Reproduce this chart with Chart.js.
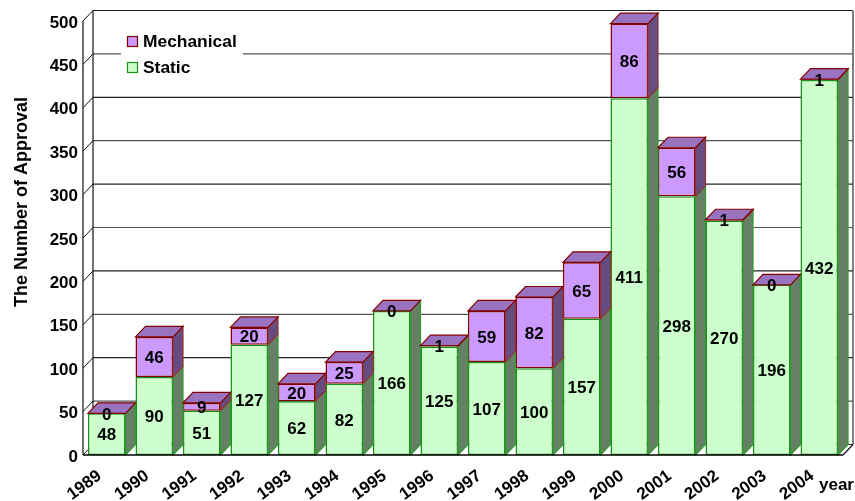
<!DOCTYPE html>
<html>
<head>
<meta charset="utf-8">
<title>The Number of Approval</title>
<style>
    html, body { margin: 0; padding: 0; background: #fff; }
    canvas { display: block; }
</style>
<script src="https://cdn.jsdelivr.net/npm/chart.js@4"></script>
</head>
<body>
<canvas id="myChart" width="855" height="501"></canvas>
<script>
const years = ["1989", "1990", "1991", "1992", "1993", "1994", "1995", "1996",
    "1997", "1998", "1999", "2000", "2001", "2002", "2003", "2004"];
const staticValues = [48, 90, 51, 127, 62, 82, 166, 125, 107, 100, 157, 411, 298, 270, 196, 432];
const mechanicalValues = [0, 46, 9, 20, 20, 25, 0, 1, 59, 82, 65, 86, 56, 1, 0, 1];
const yMax = 500;
const yStep = 50;

const FAMILY = '"Liberation Sans", Arial, sans-serif';
const FONT = "bold 17px " + FAMILY;
// offset of the back wall from the front plane
const DX = 10;
const DY = 10.5;

function poly(ctx, pts, fill, stroke, width) {
    ctx.beginPath();
    pts.forEach(function (p, i) {
        if (i === 0) ctx.moveTo(p[0], p[1]);
        else ctx.lineTo(p[0], p[1]);
    });
    ctx.closePath();
    if (fill) {
        ctx.fillStyle = fill;
        ctx.fill();
    }
    if (stroke) {
        ctx.strokeStyle = stroke;
        ctx.lineWidth = width || 1;
        ctx.stroke();
    }
}

function line(ctx, x1, y1, x2, y2, color, width) {
    ctx.beginPath();
    ctx.moveTo(x1, y1);
    ctx.lineTo(x2, y2);
    ctx.strokeStyle = color;
    ctx.lineWidth = width || 1;
    ctx.stroke();
}

// walls and grid lines sit behind the bars
const wallPlugin = {
    id: "walls",
    beforeDatasetsDraw(chart) {
        const ctx = chart.ctx;
        const a = chart.chartArea;
        const y = chart.scales.y;
        ctx.save();
        y.ticks.forEach(function (t) {
            const py = y.getPixelForValue(t.value);
            line(ctx, a.left, py, a.left + DX, py - DY, "#111");
            line(ctx, a.left + DX, py - DY, a.right + DX, py - DY, t.value % 100 === 50 ? "#555" : "#222", 1.2);
        });
        line(ctx, a.left, a.top, a.left, a.bottom, "#111", 1.2);
        line(ctx, a.left + DX, a.top - DY, a.left + DX, a.bottom - DY, "#111", 1.2);
        line(ctx, a.right + DX, a.top - DY, a.right + DX, a.bottom - DY, "#555", 1.5);
        line(ctx, a.right, a.bottom, a.right + DX, a.bottom - DY, "#111", 1.2);
        ctx.restore();
    },
    afterDatasetsDraw(chart) {
        const ctx = chart.ctx;
        const a = chart.chartArea;
        ctx.save();
        // side faces, then the top of each stack
        chart.data.datasets.forEach(function (ds, di) {
            chart.getDatasetMeta(di).data.forEach(function (bar) {
                const r = bar.x + bar.width / 2;
                if (Math.abs(bar.base - bar.y) > 0.5) {
                    poly(ctx, [[r, bar.y], [r + DX, bar.y - DY], [r + DX, bar.base - DY], [r, bar.base]],
                        ds.sideColor, ds.edgeColor, 1.2);
                }
            });
        });
        const top = chart.data.datasets[1];
        chart.getDatasetMeta(1).data.forEach(function (bar) {
            const l = bar.x - bar.width / 2;
            const r = bar.x + bar.width / 2;
            poly(ctx, [[l, bar.y], [l + DX, bar.y - DY], [r + DX, bar.y - DY], [r, bar.y]],
                top.topColor, top.borderColor, 1.2);
        });
        line(ctx, a.left, a.bottom, a.right, a.bottom, "#000", 1.5);

        // value labels in the middle of each segment
        ctx.font = FONT;
        ctx.fillStyle = "#000";
        ctx.textAlign = "center";
        ctx.textBaseline = "middle";
        chart.data.datasets.forEach(function (ds, di) {
            chart.getDatasetMeta(di).data.forEach(function (bar, i) {
                ctx.fillText(String(ds.data[i]), bar.x, (bar.y + bar.base) / 2 + 1.5);
            });
        });

        // legend
        ctx.fillStyle = "#fff";
        ctx.fillRect(121, 46, 122, 14);
        const ds = chart.data.datasets;
        ctx.font = "bold 17.4px " + FAMILY;
        [[ds[1], 41.5], [ds[0], 67.5]].forEach(function (row) {
            ctx.fillStyle = row[0].backgroundColor;
            ctx.strokeStyle = row[0].borderColor;
            ctx.lineWidth = 1.2;
            ctx.fillRect(127.5, row[1] - 5, 10, 10);
            ctx.strokeRect(127.5, row[1] - 5, 10, 10);
            ctx.fillStyle = "#000";
            ctx.textAlign = "left";
            ctx.fillText(row[0].label, 143, row[1] + 1);
        });

        // axis captions
        ctx.font = FONT;
        ctx.fillText("year", 819, 485);
        ctx.translate(22, 202);
        ctx.rotate(-Math.PI / 2);
        ctx.textAlign = "center";
        ctx.font = "bold 18px " + FAMILY;
        ctx.fillText("The Number of Approval", 0, 0);
        ctx.restore();
    },
};

new Chart(document.getElementById("myChart"), {
    type: "bar",
    data: {
        labels: years,
        datasets: [
            {
                label: "Static",
                data: staticValues,
                backgroundColor: "#CCFFCC",
                borderColor: "#1A8F1A",
                sideColor: "#668066",
                edgeColor: "#2E9E2E",
                borderWidth: 1.5,
                borderSkipped: false,
            },
            {
                label: "Mechanical",
                data: mechanicalValues,
                backgroundColor: "#CC99FF",
                borderColor: "#800000",
                sideColor: "#664C80",
                edgeColor: "#933",
                topColor: "#9973BF",
                borderWidth: 1.5,
                borderSkipped: false,
            },
        ],
    },
    options: {
        responsive: false,
        animation: false,
        events: [],
        categoryPercentage: 0.79,
        barPercentage: 1,
        layout: { padding: { top: 21, right: 12, left: 0, bottom: 0 } },
        plugins: {
            legend: { display: false },
            tooltip: { enabled: false },
        },
        scales: {
            x: {
                stacked: true,
                grid: { display: false, drawTicks: false },
                border: { display: false },
                ticks: {
                    color: "#000",
                    font: { family: FAMILY, size: 17, weight: "bold" },
                    maxRotation: 36,
                    minRotation: 36,
                    autoSkip: false,
                    padding: 11,
                    labelOffset: -7,
                },
                afterFit(scale) {
                    scale.height = 46;
                },
            },
            y: {
                stacked: true,
                min: 0,
                max: yMax,
                grid: { display: false, drawTicks: false },
                border: { display: false },
                ticks: {
                    stepSize: yStep,
                    color: "#000",
                    font: { family: FAMILY, size: 17, weight: "bold" },
                    padding: 5,
                    labelOffset: 2,
                },
                afterFit(scale) {
                    scale.width = 83;
                },
            },
        },
    },
    plugins: [wallPlugin],
});
</script>
</body>
</html>
